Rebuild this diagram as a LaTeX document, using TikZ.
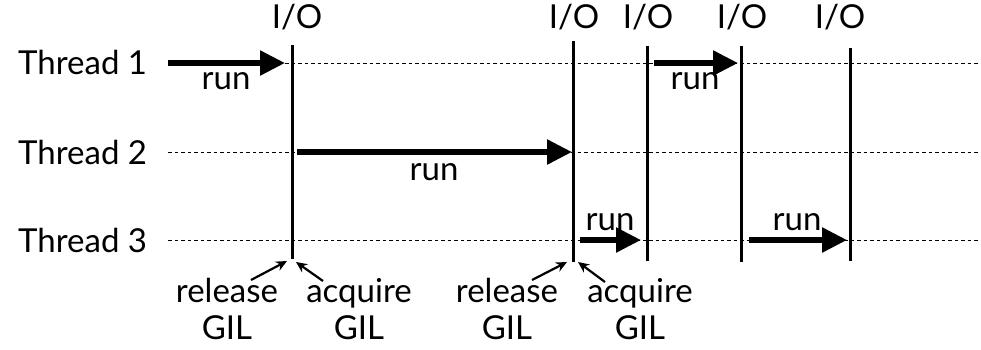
\documentclass[tikz,border=0pt]{standalone}
\usepackage{fontspec}
\setmainfont{Lato}
\usetikzlibrary{arrows.meta}
\begin{document}
\begin{tikzpicture}[x=1pt,y=-1pt,
  lbl/.style={inner sep=0pt,font=\fontsize{33}{36}\selectfont},
  dash line/.style={line width=0.9pt,dash pattern=on 3.5pt off 3pt},
  ioline/.style={line width=3pt},
  runarrow/.style={line width=5.5pt,-{Triangle[length=25pt,width=24pt]},shorten >=-1pt},
  smallarrow/.style={line width=2.2pt,-{Stealth[length=11pt,width=10pt]}}]
\useasboundingbox (0,0) rectangle (981,349);
% thread labels
\node[lbl,anchor=west] (t1) at (18,62) {Thread 1};
\node[lbl,anchor=west] (t2) at (18,152) {Thread 2};
\node[lbl,anchor=west] (t3) at (18,240) {Thread 3};
% dashed lines
\coordinate (d1s) at (168,63); \coordinate (d1e) at (981,63);
\coordinate (d2s) at (168,152); \coordinate (d2e) at (981,152);
\coordinate (d3s) at (168,240); \coordinate (d3e) at (981,240);
\draw[dash line] (d1s) -- (d1e);
\draw[dash line] (d2s) -- (d2e);
\draw[dash line] (d3s) -- (d3e);
% vertical I/O lines
\coordinate (v1t) at (292,45); \coordinate (v1b) at (292,259);
\coordinate (v2t) at (573,41); \coordinate (v2b) at (573,262);
\coordinate (v3t) at (647,46); \coordinate (v3b) at (647,261);
\coordinate (v4t) at (741,46); \coordinate (v4b) at (741,262);
\coordinate (v5t) at (850,48); \coordinate (v5b) at (850,261);
\foreach \i in {1,...,5} \draw[ioline] (v\i t) -- (v\i b);
% I/O labels
\node[lbl] (io1) at (297,17) {I/O};
\node[lbl] (io2) at (574,17) {I/O};
\node[lbl] (io3) at (648,17) {I/O};
\node[lbl] (io4) at (742,17) {I/O};
\node[lbl] (io5) at (840,17) {I/O};
% run arrows
\coordinate (a1s) at (168,63); \coordinate (a1e) at (284,63);
\coordinate (a2s) at (297,152); \coordinate (a2e) at (571,152);
\coordinate (a3s) at (654,63); \coordinate (a3e) at (737,63);
\coordinate (a4s) at (580,240); \coordinate (a4e) at (640,240);
\coordinate (a5s) at (749,240); \coordinate (a5e) at (846,240);
\draw[runarrow] (a1s) -- (a1e);
\draw[runarrow] (a2s) -- (a2e);
\draw[runarrow] (a3s) -- (a3e);
\draw[runarrow] (a4s) -- (a4e);
\draw[runarrow] (a5s) -- (a5e);
\node[lbl] (r1) at (226,81) {run};
\node[lbl] (r2) at (434,172) {run};
\node[lbl] (r3) at (695,81) {run};
\node[lbl] (r4) at (610,222) {run};
\node[lbl] (r5) at (797,222) {run};
% GIL labels
\node[lbl,align=center] (rel1) at (227,309) {release\\[1pt]GIL};
\node[lbl,align=center] (acq1) at (359,309) {acquire\\[1pt]GIL};
\node[lbl,align=center] (rel2) at (507,309) {release\\[1pt]GIL};
\node[lbl,align=center] (acq2) at (640,309) {acquire\\[1pt]GIL};
% small arrows
\coordinate (s1) at (251,280); \coordinate (e1) at (287,261);
\coordinate (s2) at (323,281); \coordinate (e2) at (296,262);
\coordinate (s3) at (532,280); \coordinate (e3) at (567,262);
\coordinate (s4) at (605,282); \coordinate (e4) at (578,262);
\draw[smallarrow] (s1) -- (e1);
\draw[smallarrow] (s2) -- (e2);
\draw[smallarrow] (s3) -- (e3);
\draw[smallarrow] (s4) -- (e4);
\end{tikzpicture}
\end{document}
